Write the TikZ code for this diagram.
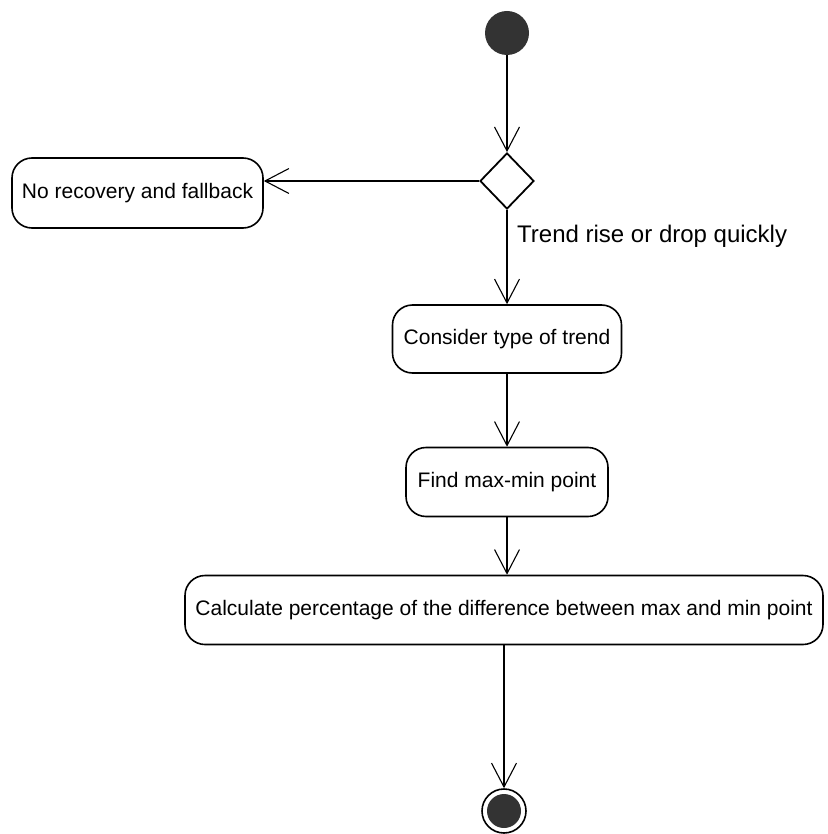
\documentclass[tikz,border=0pt]{standalone}
\usepackage{fontspec}
\setmainfont{Liberation Sans}
\usetikzlibrary{shapes.geometric,arrows.meta}
\begin{document}
\begin{tikzpicture}[x=1pt,y=-1pt,
  action/.style={draw,line width=1.6pt,rounded corners=20pt,inner sep=0pt,
    font=\fontsize{21}{25}\selectfont},
  flow/.style={line width=1.1pt,-{Straight Barb[length=24pt,width=25pt,line width=1.1pt]}},
  initial/.style={circle,fill=black!80,minimum size=44pt,inner sep=0pt},
  choice/.style={diamond,draw,line width=1.8pt,minimum width=54pt,minimum height=56pt,inner sep=0pt}]
\useasboundingbox (0,0) rectangle (827,834);

\node[initial] (start) at (507,33) {};
\node[choice] (dec) at (507,181) {};
\node[action,minimum width=251pt,minimum height=70pt] (fallback) at (137.5,193) {No recovery and fallback};
\node[action,minimum width=229pt,minimum height=68pt] (consider) at (507,339) {Consider type of trend};
\node[action,minimum width=202pt,minimum height=69pt] (find) at (507,482) {Find max-min point};
\node[action,minimum width=638pt,minimum height=69pt] (calc) at (504,610) {Calculate percentage of the difference between max and min point};
\node[circle,draw,line width=1.6pt,minimum size=44pt,inner sep=0pt] (final) at (504,811) {};
\node[circle,fill=black!80,minimum size=34pt,inner sep=0pt] (finalin) at (final) {};

\node[anchor=west,font=\fontsize{24}{28}\selectfont,inner sep=0pt] (cond) at (517,236) {Trend rise or drop quickly};

\draw[flow] (start) -- (dec);
\draw[flow] (dec.west) -- (dec.west -| fallback.east);
\draw[flow] (dec.south) -- (consider.north -| dec.south);
\draw[flow] (consider.south -| find.north) -- (find.north);
\draw[flow] (find.south) -- (calc.north -| find.south);
\draw[flow] (calc.south -| final.north) -- (final.north);
\end{tikzpicture}
\end{document}
